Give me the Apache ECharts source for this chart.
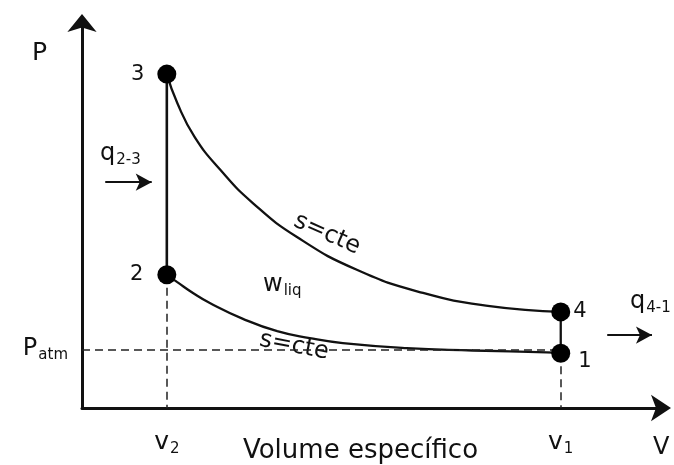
<!DOCTYPE html>
<html>
<head>
<meta charset="utf-8">
<script src="https://cdn.jsdelivr.net/npm/echarts@6/dist/echarts.min.js"></script>
<style>html,body{margin:0;padding:0;background:#fff}#c{width:674px;height:465px}</style>
</head>
<body>
<div id="c"></div>
<script>
// ---- data ----
const stateLabels = ['1', '2', '3', '4'];
const stateV = [82.4, 14.6, 14.6, 82.4];
const stateP = [14.2, 34.5, 86.5, 24.9];

// isentropic expansion 3 -> 4
const expansionV = [14.6, 16.4, 19.4, 23.8, 29.4, 37.0, 47.3, 58.7, 70.2, 82.4];
const expansionP = [86.5, 79.0, 70.2, 61.7, 53.1, 44.3, 35.8, 29.8, 26.4, 24.9];

// isentropic compression 1 -> 2 (listed from 2 to 1)
const compressionV = [14.6, 16.4, 19.1, 22.0, 27.7, 33.6, 39.2, 44.9, 55.9, 67.3, 80.0, 82.4];
const compressionP = [34.5, 32.6, 29.8, 27.2, 23.1, 19.9, 18.1, 16.8, 15.5, 14.9, 14.4, 14.2];

const pAtm = 15.0;
const xTickValues = [14.6, 82.4];
const xTickSubs = ['2', '1'];
const yTickValues = [15.0];

const heatInV = [4.0, 12.0];
const heatInP = 58.5;
const heatOutV = [90.4, 98.1];
const heatOutP = 18.9;

// ---- chart ----
const FONT = 'DejaVu Sans';
const INK = '#111111';
const zip = (a, b) => a.map((v, i) => [v, b[i]]);

const labelCfg = {
  '1': { position: 'right', distance: 8, offset: [0, 8] },
  '2': { position: 'left', distance: 14 },
  '3': { position: 'left', distance: 13 },
  '4': { position: 'right', distance: 3 }
};

function subRich(mainSize, subSize, drop) {
  return {
    m: { fontSize: mainSize, fontFamily: FONT, color: INK, fill: INK, lineHeight: mainSize + 2, verticalAlign: 'top' },
    s: { fontSize: subSize, fontFamily: FONT, color: INK, fill: INK, lineHeight: subSize, padding: [drop, 0, 0, 1], verticalAlign: 'bottom' }
  };
}

const chart = echarts.init(document.getElementById('c'));
const option = {
  backgroundColor: '#ffffff',
  animation: false,
  grid: { left: 82, right: 11, top: 22, bottom: 57, containLabel: false, outerBoundsMode: 'none' },
  xAxis: {
    type: 'value', min: 0, max: 100,
    splitLine: { show: false },
    axisTick: { show: false },
    axisLine: { onZero: false, lineStyle: { color: INK, width: 3 }, symbol: ['none', 'arrow'], symbolSize: [20, 20], symbolOffset: [0, 8] },
    axisLabel: {
      customValues: xTickValues,
      margin: 22,
      fontFamily: FONT,
      color: INK,
      formatter: v => '{m|v}{s|' + xTickSubs[xTickValues.indexOf(v)] + '}',
      rich: subRich(25, 15, 16)
    },
    name: 'Volume específico',
    nameLocation: 'middle',
    nameGap: 30,
    nameMoveOverlap: false,
    nameTextStyle: { fontSize: 26, fontFamily: FONT, color: INK, padding: [0, 24, 0, 0] }
  },
  yAxis: {
    type: 'value', min: 0, max: 100,
    splitLine: { show: false },
    axisTick: { show: false },
    axisLine: { onZero: false, lineStyle: { color: INK, width: 3 }, symbol: ['none', 'arrow'], symbolSize: [22, 18], symbolOffset: [0, 8] },
    axisLabel: {
      customValues: yTickValues,
      margin: 14,
      fontFamily: FONT,
      color: INK,
      formatter: () => '{m|P}{s|atm}',
      rich: subRich(24, 15, 18)
    }
  },
  series: [
    {
      name: 'expansion', type: 'line', smooth: 0.5, showSymbol: false,
      data: zip(expansionV, expansionP),
      lineStyle: { color: INK, width: 2.3 }, silent: true, z: 3
    },
    {
      name: 'compression', type: 'line', smooth: 0.5, showSymbol: false,
      data: zip(compressionV, compressionP),
      lineStyle: { color: INK, width: 2.3 }, silent: true, z: 3
    },
    {
      name: 'heat in 2-3', type: 'line', showSymbol: false,
      data: [[stateV[1], stateP[1]], [stateV[2], stateP[2]]],
      lineStyle: { color: INK, width: 2.6 }, silent: true, z: 3
    },
    {
      name: 'heat out 4-1', type: 'line', showSymbol: false,
      data: [[stateV[3], stateP[3]], [stateV[0], stateP[0]]],
      lineStyle: { color: INK, width: 2.3 }, silent: true, z: 3,
      markLine: {
        silent: true, symbol: 'none', label: { show: false },
        lineStyle: { color: '#222', width: 1.5, type: [8, 5] },
        data: [
          [{ coord: [0, pAtm] }, { coord: [stateV[0], pAtm] }],
          [{ coord: [xTickValues[0], stateP[1]] }, { coord: [xTickValues[0], 0] }],
          [{ coord: [xTickValues[1], stateP[0]] }, { coord: [xTickValues[1], 0] }]
        ]
      }
    },
    {
      name: 'heat arrows', type: 'line', showSymbol: false, data: [],
      markLine: {
        silent: true, symbol: ['none', 'arrow'], symbolSize: [13, 16], label: { show: false },
        lineStyle: { color: INK, width: 2, type: 'solid' },
        data: [
          [{ coord: [heatInV[0], heatInP] }, { coord: [heatInV[1], heatInP] }],
          [{ coord: [heatOutV[0], heatOutP] }, { coord: [heatOutV[1], heatOutP] }]
        ]
      }
    },
    {
      name: 'states', type: 'scatter', symbol: 'circle', symbolSize: 19, z: 5,
      itemStyle: { color: '#000000', opacity: 1 },
      data: stateLabels.map((s, i) => ({
        value: [stateV[i], stateP[i]],
        label: Object.assign({ show: true, formatter: s, fontSize: 21, fontFamily: FONT, color: INK }, labelCfg[s])
      }))
    }
  ],
  graphic: [
    { type: 'text', left: 32, top: 41, style: { text: 'P', fontSize: 25, fontFamily: FONT, fill: INK } },
    { type: 'text', left: 653, top: 436, style: { text: 'V', fontSize: 24, fontFamily: FONT, fill: INK } },
    { type: 'text', left: 100, top: 137, style: { text: '{m|q}{s|2-3}', rich: subRich(24, 15, 16) } },
    { type: 'text', left: 630, top: 287, style: { text: '{m|q}{s|4-1}', rich: subRich(24, 15, 14) } },
    { type: 'text', left: 263, top: 266, style: { text: '{m|w}{s|liq}', rich: subRich(24, 15, 18) } },
    { type: 'text', x: 327, y: 234, rotation: -24 * Math.PI / 180,
      style: { text: 's=cte', fontSize: 24, fontFamily: FONT, fill: INK, align: 'center', verticalAlign: 'middle' } },
    { type: 'text', x: 294, y: 346, rotation: -11 * Math.PI / 180,
      style: { text: 's=cte', fontSize: 24, fontFamily: FONT, fill: INK, align: 'center', verticalAlign: 'middle' } }
  ]
};
chart.setOption(option);
</script>
</body>
</html>
